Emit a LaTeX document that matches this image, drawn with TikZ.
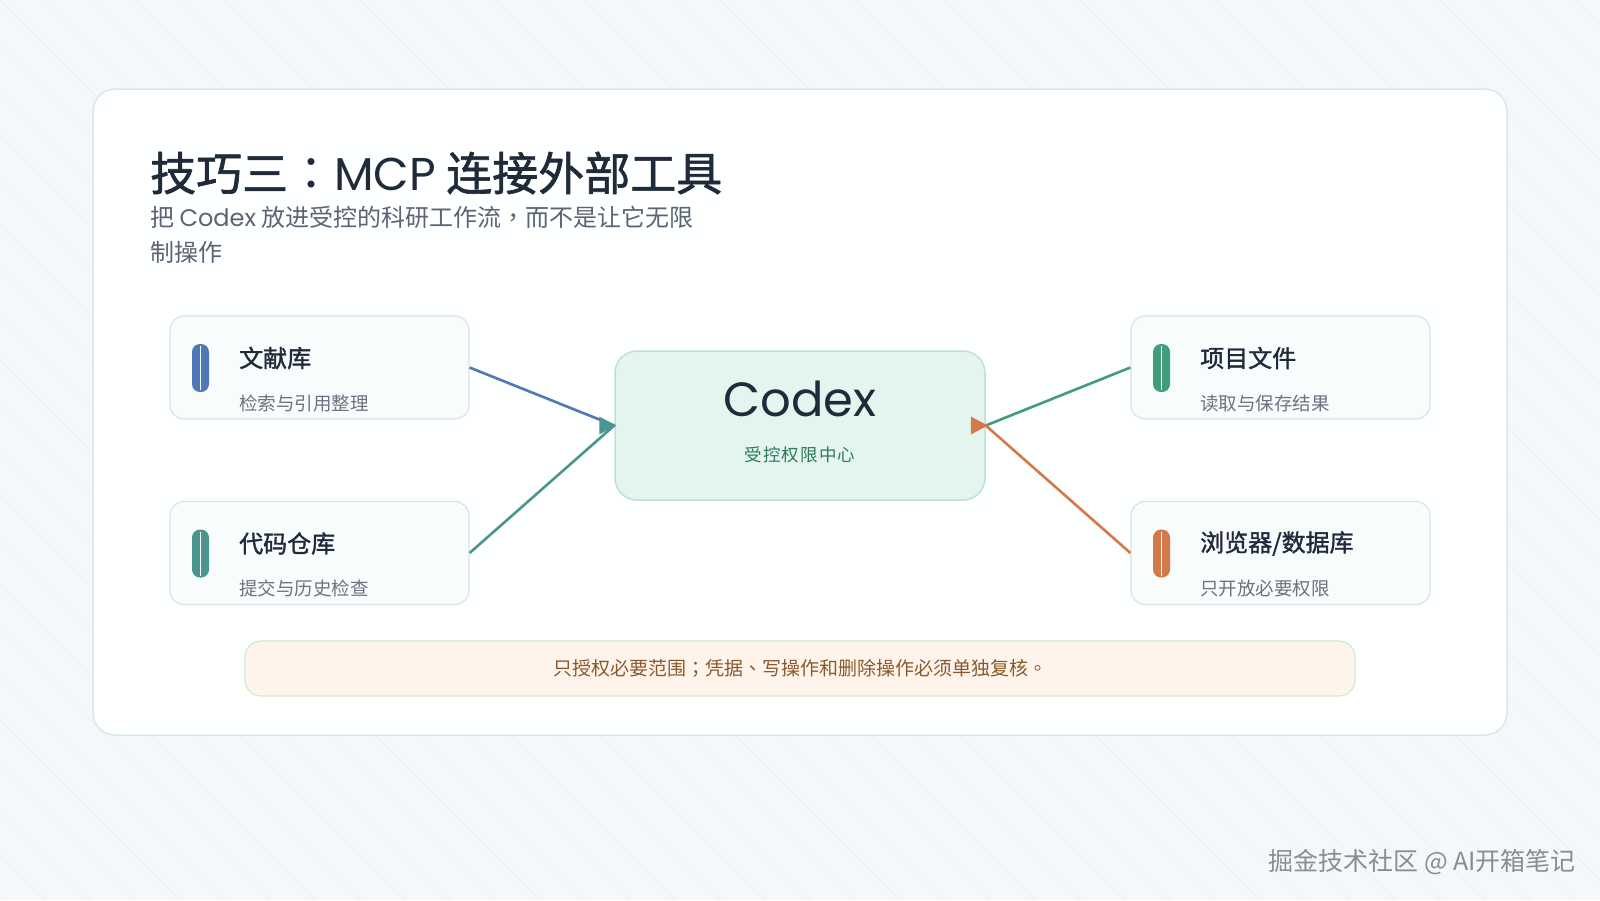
\documentclass[tikz,border=0pt]{standalone}
\usepackage{fontspec}
\setmainfont{Noto Sans CJK SC}
\newfontfamily\geofont{Poppins}
\newfontfamily\punctfont{Noto Sans CJK TC}
\newfontfamily\heavyfont[FakeBold=1.4]{Noto Sans CJK SC}

\definecolor{pagebg}{HTML}{F4F8FA}
\definecolor{stripe}{HTML}{EDF3F6}
\definecolor{cardbg}{HTML}{FEFFFF}
\definecolor{cardline}{HTML}{D6E9E8}
\definecolor{boxfill}{HTML}{F9FCFD}
\definecolor{boxline}{HTML}{D3E6E3}
\definecolor{hubfill}{HTML}{E3F5EE}
\definecolor{hubline}{HTML}{BDE2D3}
\definecolor{notefill}{HTML}{FFF4EB}
\definecolor{noteline}{HTML}{D2E9D8}
\definecolor{ink}{HTML}{1F2A3A}
\definecolor{inksoft}{HTML}{5A6473}
\definecolor{inkmute}{HTML}{6B7380}
\definecolor{hubtext}{HTML}{2F7A5A}
\definecolor{notetext}{HTML}{8A5A2E}
\definecolor{accblue}{HTML}{4E78B6}
\definecolor{accteal}{HTML}{4A958F}
\definecolor{accgreen}{HTML}{3F9D79}
\definecolor{accorange}{HTML}{D5784A}

\begin{document}
\begin{tikzpicture}[x=1pt,y=-1pt,line join=round,
  toolbox/.style={draw=boxline,fill=boxfill,line width=1.2pt,rounded corners=14pt,
    minimum width=299pt,minimum height=103pt,inner sep=0pt},
  tooltitle/.style={anchor=west,inner sep=0pt,text=ink,font=\heavyfont\fontsize{24}{28}\selectfont},
  toolnote/.style={anchor=west,inner sep=0pt,text=inkmute,font=\fontsize{18.5}{22}\selectfont},
  accbar/.style={rounded corners=8pt},
  wire/.style={line width=2.6pt}]
  % Frame the page at 1600 x 900.
  \useasboundingbox (0,0) rectangle (1600,900);
  \fill[pagebg] (0,0) rectangle (1600,900);

  % Faint diagonal background stripes.
  \begin{scope}
    \clip (0,0) rectangle (1600,900);
    \foreach \i in {-900,-855,...,1600}
      \draw[stripe,line width=1.2pt] (\i,0) -- (\i+900,900);
  \end{scope}

  % White card.
  \filldraw[fill=cardbg,draw=cardline,line width=1.5pt,rounded corners=22pt]
    (93,89) rectangle (1507,735);

  % Heading.
  \node[anchor=west,inner sep=0pt,text=ink,font=\heavyfont\fontsize{46}{54}\selectfont]
    (heading) at (150,173) {技巧三{\punctfont ：}{\geofont MCP} 连接外部工具};
  \node[anchor=west,inner sep=0pt,text=inksoft,align=left,
    font=\fontsize{24}{35}\selectfont]
    (subhead) at (150,234.5) {把 {\geofont Codex} 放进受控的科研工作流{\punctfont ，}而不是让它无限\\制操作};

  % Tool boxes.
  \node[toolbox] (lib) at (319.5,367.5) {};
  \node[toolbox] (repo) at (319.5,553) {};
  \node[toolbox] (proj) at (1280.5,367.5) {};
  \node[toolbox] (web) at (1280.5,553) {};

  % Accent bars.
  \fill[accblue,accbar] (192,344) rectangle (209,392);
  \fill[accteal,accbar] (192,529.5) rectangle (209,577.5);
  \fill[accgreen,accbar] (1153,344) rectangle (1170,392);
  \fill[accorange,accbar] (1153,529.5) rectangle (1170,577.5);
  \foreach \bx/\by in {200.5/344,200.5/529.5,1161.5/344,1161.5/529.5}
    \draw[white,line width=1pt] (\bx,\by+2) -- (\bx,\by+46);

  % Box labels.
  \node[tooltitle] (libT) at (239,358) {文献库};
  \node[toolnote] (libS) at (239,403) {检索与引用整理};
  \node[tooltitle] (repoT) at (239,543.5) {代码仓库};
  \node[toolnote] (repoS) at (239,588.5) {提交与历史检查};
  \node[tooltitle] (projT) at (1200,358) {项目文件};
  \node[toolnote] (projS) at (1200,403) {读取与保存结果};
  \node[tooltitle] (webT) at (1200,543.5) {浏览器/数据库};
  \node[toolnote] (webS) at (1200,588.5) {只开放必要权限};

  % Hub.
  \node[draw=hubline,fill=hubfill,line width=1.5pt,rounded corners=22pt,
    minimum width=370pt,minimum height=149pt,inner sep=0pt] (hub) at (800,425.5) {};
  \node[inner sep=0pt,text=ink,font=\geofont\fontsize{48}{56}\selectfont]
    (hubT) at (800,399) {Codex};
  \node[inner sep=0pt,text=hubtext,font=\fontsize{17.5}{22}\selectfont]
    (hubS) at (800,455) {受\hspace{1.2pt}控\hspace{1.2pt}权\hspace{1.2pt}限\hspace{1.2pt}中\hspace{1.2pt}心};

  % Connectors into the hub.
  \draw[wire,accblue] (lib.east) -- (hub.west);
  \draw[wire,accteal] (repo.east) -- (hub.west);
  \draw[wire,accgreen] (proj.west) -- (hub.east);
  \draw[wire,accorange] (web.west) -- (hub.east);

  % Arrow markers sit flat, pointing right.
  \fill[accteal] ([xshift=2pt]hub.west) -- ++(-17,-9) -- ++(0,18) -- cycle;
  \fill[accorange] ([xshift=2pt]hub.east) -- ++(-17,-9) -- ++(0,18) -- cycle;

  % Footer note.
  \node[draw=noteline,fill=notefill,line width=1.2pt,rounded corners=16pt,
    minimum width=1110pt,minimum height=55pt,inner sep=0pt,text=notetext,
    font=\fontsize{19}{22}\selectfont] (note) at (800,668.5)
    {只授权必要范围{\punctfont ；}凭据{\punctfont 、}写操作和删除操作必须单独复核{\punctfont 。}};

  % Watermark.
  \node[anchor=east,inner sep=0pt,text=black!45,font=\fontsize{25}{30}\selectfont]
    (mark) at (1576,862) {掘金技术社区 @ AI开箱笔记};
\end{tikzpicture}
\end{document}
